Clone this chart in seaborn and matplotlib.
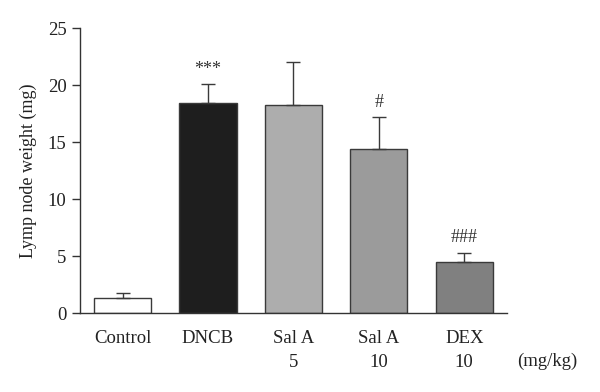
import numpy as np
import matplotlib
matplotlib.use('Agg')
import matplotlib.pyplot as plt
import seaborn as sns

# Dados
grupos = ['Control', 'DNCB', 'Sal A\n5', 'Sal A\n10', 'DEX\n10']
medias = [1.3, 18.4, 18.25, 14.4, 4.45]
erros = [0.45, 1.65, 3.75, 2.8, 0.85]
marcas = ['', '***', '', '#', '###']
cores = ['#ffffff', '#1e1e1e', '#adadad', '#9b9b9b', '#808080']

sns.set_style('ticks')
plt.rcParams['font.family'] = ['Liberation Serif', 'DejaVu Serif']

fig = plt.figure(figsize=(6.0, 3.92), dpi=100)
ax = fig.add_axes([0.133, 0.2015, 0.712, 0.727])

sns.barplot(x=grupos, y=medias, hue=grupos, palette=cores, legend=False,
            width=0.67, edgecolor='#3a3a3a', linewidth=1.0, ax=ax)

pos = np.arange(len(grupos))
ax.errorbar(pos, medias, yerr=[np.zeros(len(erros)), erros], fmt='none',
            ecolor='#3a3a3a', elinewidth=1.0, capsize=5, capthick=1.0)

for xi, m, e, s in zip(pos, medias, erros, marcas):
    if s:
        ax.text(xi, m + e + 0.55, s, ha='center', va='bottom', fontsize=13, color='#333333')

ax.set_xlim(-0.5, len(grupos) - 0.5)
ax.set_ylim(0, 25)
ax.set_yticks([0, 5, 10, 15, 20, 25])
ax.set_ylabel('Lymp node weight (mg)', fontsize=13, color='#222222', labelpad=8)
ax.set_xlabel('')
ax.tick_params(axis='y', length=6, width=1.0, colors='#333333', labelsize=13.5, labelcolor='#222222')
ax.tick_params(axis='x', length=0, labelsize=13.5, labelcolor='#222222', pad=12)
# unico tique no meio do eixo x
ax.set_xticks([pos[len(pos) // 2]], minor=True)
ax.tick_params(axis='x', which='minor', length=6, width=1.0, colors='#333333')

for lab in ax.get_xticklabels():
    lab.set_linespacing(1.55)
    lab.set_verticalalignment('top')

ax.text(1.095, -0.14, '(mg/kg)', transform=ax.transAxes, ha='center', va='top',
        fontsize=13.5, color='#222222')

sns.despine(ax=ax)
for sp in ['left', 'bottom']:
    ax.spines[sp].set_color('#333333')
    ax.spines[sp].set_linewidth(1.0)

fig.savefig('out.png', dpi=100)
